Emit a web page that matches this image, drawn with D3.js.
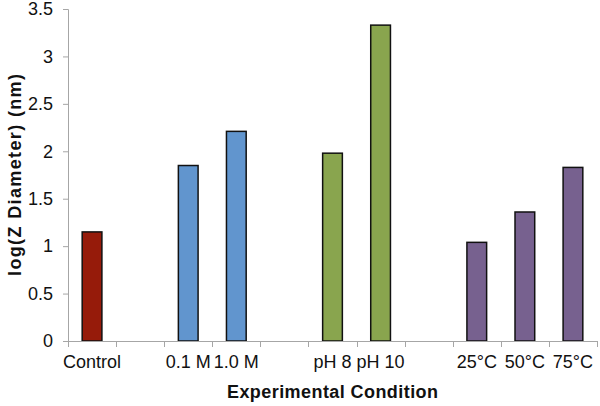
<!DOCTYPE html>
<html>
<head>
<meta charset="utf-8">
<script src="https://cdn.jsdelivr.net/npm/d3@7"></script>
<style>
  html, body { margin: 0; padding: 0; background: #fff; }
  text { font-family: "Liberation Sans", Arial, Helvetica, sans-serif; }
</style>
</head>
<body>
<svg id="chart" width="600" height="406"></svg>
<script>
// ---- data ----
const slotLabels = ["Control", "", "0.1 M", "1.0 M", "", "pH 8", "pH 10", "", "25\u00B0C", "50\u00B0C", "75\u00B0C"];
const barSlots   = [0, 2, 3, 5, 6, 8, 9, 10];
const barValues  = [1.15, 1.85, 2.21, 1.98, 3.33, 1.04, 1.36, 1.83];
const barGroups  = ["control", "salt", "salt", "ph", "ph", "temp", "temp", "temp"];
const yTicks     = [0, 0.5, 1, 1.5, 2, 2.5, 3, 3.5];
const xTitle = "Experimental Condition";
const yTitle = "log(Z Diameter) (nm)";

(function () {
const groupColor = { control: "#961B0A", salt: "#6195CE", ph: "#89A54E", temp: "#77618F" };

const svg = d3.select("#chart");
const pLeft = 68, pRight = 597, pTop = 9, pBottom = 341;

const x = d3.scaleBand().domain(d3.range(slotLabels.length)).range([pLeft, pRight]).padding(0);
const y = d3.scaleLinear().domain([0, 3.5]).range([pBottom, pTop]);

const barW = x.bandwidth() * 0.41;

// bars
svg.append("g").selectAll("rect")
  .data(barValues.map((v, i) => ({ v, slot: barSlots[i], g: barGroups[i] })))
  .join("rect")
  .attr("x", d => x(d.slot) + (x.bandwidth() - barW) / 2)
  .attr("y", d => y(d.v))
  .attr("width", barW)
  .attr("height", d => y(0) - y(d.v))
  .attr("fill", d => groupColor[d.g])
  .attr("stroke", "#111")
  .attr("stroke-width", 1.5);

const axisColor = "#a6a6a6";

// y axis
const yAxis = svg.append("g").attr("transform", `translate(${pLeft},0)`)
  .call(d3.axisLeft(y).tickValues(yTicks).tickFormat(d3.format("")).tickSize(5).tickPadding(10));
yAxis.select(".domain").attr("stroke", axisColor);
yAxis.selectAll(".tick text").attr("fill", "#111").style("font-size", "18px")
  .style("font-family", "'Liberation Sans', Arial, sans-serif");
yAxis.selectAll(".tick line").attr("stroke", axisColor);

// x axis: ticks on slot boundaries
const xg = svg.append("g");
xg.append("line").attr("x1", pLeft).attr("x2", pRight).attr("y1", pBottom + 0.5).attr("y2", pBottom + 0.5)
  .attr("stroke", axisColor);
const bounds = d3.range(slotLabels.length + 1).map(i => i < slotLabels.length ? x(i) : x(i - 1) + x.bandwidth());
xg.selectAll(".xt").data(bounds).join("line")
  .attr("x1", d => Math.round(d) + 0.5).attr("x2", d => Math.round(d) + 0.5)
  .attr("y1", pBottom).attr("y2", pBottom + 6)
  .attr("stroke", axisColor);
xg.selectAll(".xl").data(slotLabels).join("text")
  .attr("x", (d, i) => x(i) + x.bandwidth() / 2)
  .attr("y", 368)
  .attr("text-anchor", "middle")
  .style("font-size", "18px")
  .attr("fill", "#111")
  .text(d => d);

// titles
svg.append("text")
  .attr("x", (pLeft + pRight) / 2).attr("y", 398)
  .attr("text-anchor", "middle")
  .style("font-size", "18px").style("font-weight", "bold")
  .attr("textLength", 211).attr("lengthAdjust", "spacing")
  .attr("fill", "#111")
  .text(xTitle);

svg.append("text")
  .attr("transform", `translate(21,${(pTop + pBottom) / 2}) rotate(-90)`)
  .attr("text-anchor", "middle")
  .style("font-size", "18px").style("font-weight", "bold")
  .attr("textLength", 202).attr("lengthAdjust", "spacing")
  .attr("fill", "#111")
  .text(yTitle);
})();
</script>
</body>
</html>
